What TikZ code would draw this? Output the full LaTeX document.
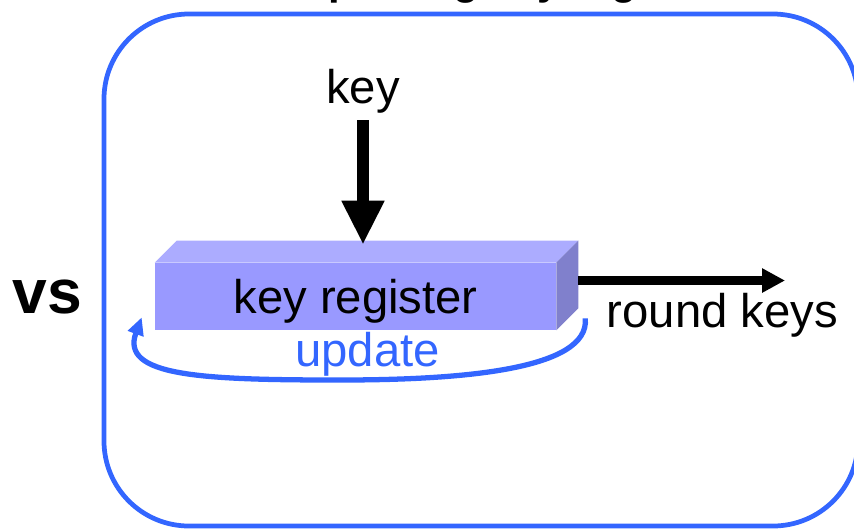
\documentclass[tikz,border=0pt]{standalone}
\usepackage{fontspec}
\setmainfont{Liberation Sans}
\usetikzlibrary{arrows.meta}
\definecolor{loopblue}{RGB}{51,102,255}
\definecolor{regfront}{RGB}{153,153,255}
\definecolor{regtop}{RGB}{172,172,255}
\definecolor{regside}{RGB}{128,128,204}
\newcommand{\bigtxt}{\fontsize{26.9pt}{30pt}\selectfont}
\begin{document}
\begin{tikzpicture}[x=0.02cm,y=-0.02cm,
    lbl/.style={inner sep=0pt,anchor=base,font=\bigtxt}]
\useasboundingbox (0,0) rectangle (854,529);

\node[lbl,font=\fontsize{23.8pt}{28pt}\selectfont\bfseries] (title) at (512,-6) {Updating key register};
\draw[loopblue,line width=2.7pt,rounded corners=1.7cm] (104,14) rectangle (858,526);

\node[lbl,font=\fontsize{35.5pt}{40pt}\selectfont\bfseries] (vs) at (47.5,313) {vs};
\node[lbl] (keyin) at (363,103) {key};

% register block with its top and side faces
\node[fill=regfront,minimum width=8.02cm,minimum height=1.34cm,inner sep=0pt,
      font=\bigtxt,text height=0.68cm,text depth=0pt] (reg) at (355.5,296.5) {key register};
\fill[regtop] (reg.north west) -- ++(22,-22) -- ([shift={(22,-22)}]reg.north east) -- (reg.north east) -- cycle;
\fill[regside] (reg.north east) -- ++(22,-22) -- ([shift={(22,-22)}]reg.south east) -- (reg.south east) -- cycle;

\draw[-{Triangle[length=25pt,width=22.7pt]},line width=6.8pt,shorten <=0.14cm,shorten >=0.36cm]
    (keyin.south) -- (keyin.south |- reg.north);

\coordinate (rkend) at (785,280.5);
\draw[-{Triangle[length=13pt,width=13pt]},line width=4.8pt] ([shift={(22,-16)}]reg.east) -- (rkend);
\node[lbl] (rk) at (722.5,327) {round keys};

\coordinate (updR) at ([shift={(29,-12)}]reg.south east);
\coordinate (updL) at ([shift={(-13,-13)}]reg.south west);
\draw[loopblue,line width=3pt,-{Triangle[length=10pt,width=9pt]}]
    (updR) .. controls (590,370) and (460,380) .. (340,380)
    .. controls (200,380) and (120,376) .. (updL);
\node[lbl,text=loopblue] (upd) at (367.5,366) {update};
\end{tikzpicture}
\end{document}
